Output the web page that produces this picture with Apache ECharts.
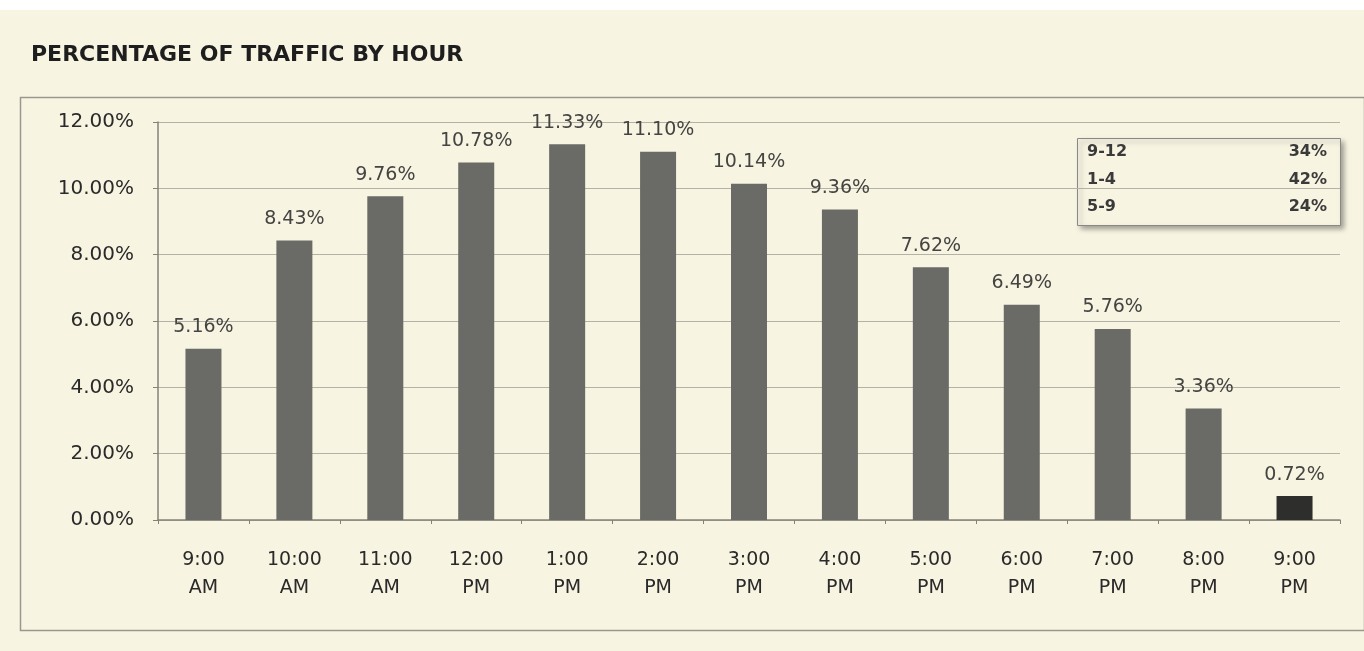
<!DOCTYPE html>
<html>
<head>
<meta charset="utf-8">
<script src="https://cdn.jsdelivr.net/npm/echarts@6/dist/echarts.min.js"></script>
<style>
  html, body { margin: 0; padding: 0; background: #f8f4e2; }
  #chart { width: 1364px; height: 651px; }
</style>
</head>
<body>
<div id="chart"></div>
<script>
// hours of the day
const hours = ['9:00\nAM', '10:00\nAM', '11:00\nAM', '12:00\nPM', '1:00\nPM', '2:00\nPM', '3:00\nPM',
  '4:00\nPM', '5:00\nPM', '6:00\nPM', '7:00\nPM', '8:00\nPM', '9:00\nPM']
// percent of traffic
const traffic = [5.16, 8.43, 9.76, 10.78, 11.33, 11.10, 10.14, 9.36, 7.62, 6.49, 5.76, 3.36, 0.72]
// summary box
const rangeNames = ['9-12', '1-4', '5-9']
const rangeShares = ['34%', '42%', '24%']

const chart = echarts.init(document.getElementById('chart'))

const FONT = 'DejaVu Sans'
const boxX = 1077, boxY = 138, boxW = 263, boxH = 87
const summary = []
rangeNames.forEach((name, i) => {
  summary.push({
    type: 'text', left: boxX + 10, top: boxY + 6 + i * 27.5,
    style: { text: name, font: 'bold 16px "DejaVu Sans"', fill: '#3a3a3a' },
  })
  summary.push({
    type: 'text', right: 1364 - 1327, top: boxY + 6 + i * 27.5,
    style: { text: rangeShares[i], font: 'bold 16px "DejaVu Sans"', fill: '#3a3a3a', align: 'right' },
  })
})

const option = {
  backgroundColor: '#f8f4e2',
  animation: false,
  title: {
    text: 'PERCENTAGE OF TRAFFIC BY HOUR',
    left: 26,
    top: 39,
    textStyle: { fontFamily: FONT, fontWeight: 'bold', fontSize: 22, color: '#1e1e1e' },
  },
  grid: { left: 158, right: 24, top: 122, bottom: 131 },
  xAxis: {
    type: 'category',
    data: hours,
    axisLine: { lineStyle: { color: '#858378', width: 1.5 } },
    axisTick: { show: true, length: 4, lineStyle: { color: '#858378' } },
    axisLabel: {
      color: '#2a2a2a', fontSize: 19, fontFamily: FONT, margin: 26, lineHeight: 28, interval: 0,
    },
  },
  yAxis: {
    type: 'value',
    min: 0, max: 12, interval: 2,
    axisLine: { show: true, lineStyle: { color: '#858378', width: 1.5 } },
    axisTick: { show: true, length: 5, lineStyle: { color: '#858378' } },
    axisLabel: {
      color: '#2a2a2a', fontSize: 20, fontFamily: FONT, margin: 24,
      formatter: (v) => v.toFixed(2) + '%',
    },
    splitLine: { lineStyle: { color: '#b4b1a6', width: 1.2 } },
  },
  series: [
    {
      type: 'bar',
      data: traffic.map((v, i) => ({
        value: v,
        itemStyle: { color: i === traffic.length - 1 ? '#2e2e2c' : '#6a6a66' },
      })),
      barWidth: 36,
      label: {
        show: true, position: 'top', distance: 12,
        color: '#444442', fontSize: 19, fontFamily: FONT,
        formatter: (p) => p.value.toFixed(2) + '%',
      },
    },
  ],
  graphic: [
    { type: 'rect', left: 0, top: 0, shape: { width: 1364, height: 10 }, style: { fill: '#ffffff' } },
    {
      type: 'rect', left: 18, top: 95, z: -1,
      shape: { width: 1344, height: 533 },
      style: { fill: 'none', stroke: '#9a978e', lineWidth: 1.5 },
    },
    {
      type: 'rect', left: boxX, top: boxY,
      shape: { width: boxW, height: boxH },
      style: { fill: '#f8f4e2', stroke: '#888', lineWidth: 1, shadowBlur: 5, shadowOffsetX: 3, shadowOffsetY: 3, shadowColor: 'rgba(0,0,0,0.35)' },
    },
    ...summary,
  ],
}

chart.setOption(option)
window.addEventListener('resize', () => {
  chart.resize()
})
</script>
</body>
</html>
